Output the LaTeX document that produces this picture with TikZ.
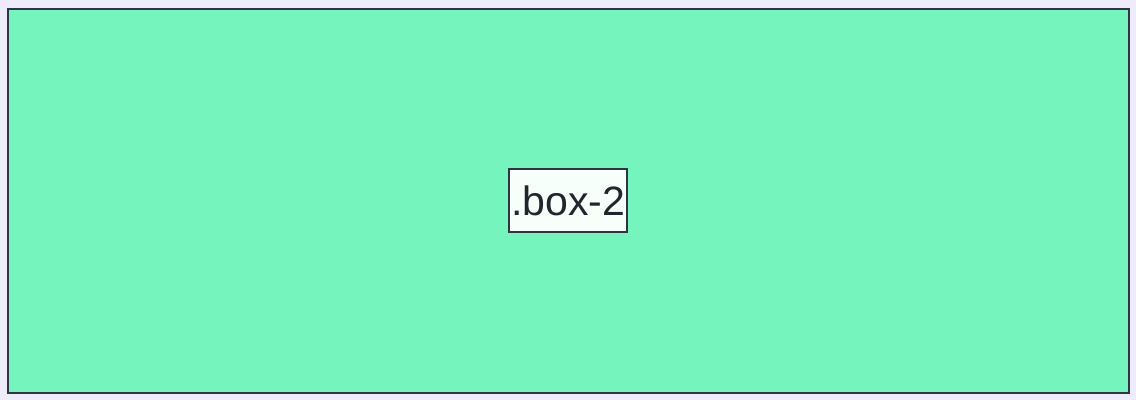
\documentclass[tikz,border=0pt]{standalone}
\usepackage{fontspec}
\setmainfont{Liberation Sans}
\usetikzlibrary{positioning}

\definecolor{pagebg}{HTML}{EEEBFA}
\definecolor{outerfill}{HTML}{76F4BE}
\definecolor{outerline}{HTML}{2E3442}
\definecolor{innerfill}{HTML}{F6FFF9}
\definecolor{textcol}{HTML}{23252E}

\begin{document}
\begin{tikzpicture}[x=1pt, y=-1pt,
	outerbox/.style={draw=outerline, fill=outerfill, line width=2.2pt},
	innerbox/.style={draw=outerline, fill=innerfill, line width=1.7pt, inner sep=0pt,
		minimum width=118pt, minimum height=63pt, text height=29.5pt, text depth=0pt,
		text=textcol, font=\fontsize{41}{41}\selectfont}]
	% Fond de la page
	\fill[pagebg] (0, 0) rectangle (1136, 400);
	\useasboundingbox (0, 0) rectangle (1136, 400);

	% Boîte extérieure
	\draw[outerbox] (8, 9) rectangle (1129, 393);

	% Boîte intérieure
	\node[innerbox] (box2) at (568, 200.75) {.box-2};
\end{tikzpicture}
\end{document}
